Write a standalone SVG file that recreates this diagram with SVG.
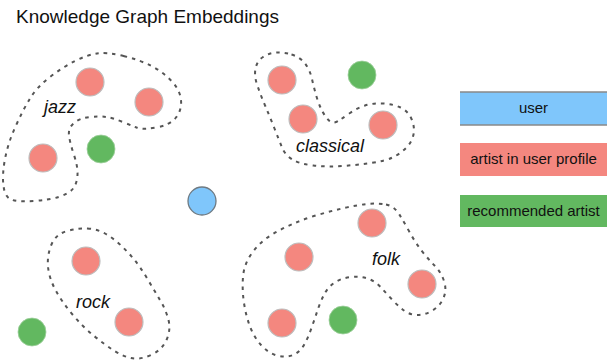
<svg xmlns="http://www.w3.org/2000/svg" width="614" height="363" viewBox="0 0 614 363">
<style>
  text { font-family: "Liberation Sans", Arial, sans-serif; fill: #111; }
  .title { font-size: 19px; }
  .lab { font-size: 18px; font-style: italic; }
  .leg { font-size: 15px; text-anchor: middle; }
  .cluster { fill: none; stroke: #555; stroke-width: 2; stroke-dasharray: 3.5 5; stroke-linecap: butt; }
  .artist { fill: #f4877f; stroke: #bdbdbd; stroke-width: 1.2; }
  .rec { fill: #62b860; stroke: #9fcf9d; stroke-width: 0.8; }
  .user { fill: #7fc6fb; stroke: #6f7a82; stroke-width: 1.3; }
</style>
<rect width="614" height="363" fill="#fff"/>
<text class="title" x="16" y="23">Knowledge Graph Embeddings</text>

<g id="clusters">
  <path id="cluster-jazz" class="cluster" d="M 123.5,56 Q 140,60 151.5,66 Q 163,72 171.5,81 Q 180,90 181,100 Q 182,110 176,117.5 Q 170,125 156.5,127.5 Q 143,130 136.5,127.5 Q 130,125 121.5,121.5 Q 113,118 106.5,117 Q 100,116 90,117 Q 80,118 74,123 Q 68,128 69,135.5 Q 70,143 74,155 Q 78,167 77.5,175 Q 77,183 73.5,188 Q 70,193 60,196.5 Q 50,200 33.5,201 Q 17,202 11,199.5 Q 5,197 3.5,186 Q 2,175 5,159 Q 8,143 15.5,126.5 Q 23,110 30,98.5 Q 37,87 50,77 Q 63,67 75,61 Q 87,55 97,53.5 Q 107,52 123.5,56 Z"/>
  <path id="cluster-classical" class="cluster" d="M 291.5,54.5 Q 300,57 305,63.5 Q 310,70 312,79 Q 314,88 316.5,96.5 Q 319,105 322.5,111.5 Q 326,118 329.5,121 Q 333,124 338,121 Q 343,118 350,113 Q 357,108 365,105.5 Q 373,103 383,103.5 Q 393,104 400.5,107.5 Q 408,111 411.5,119 Q 415,127 413.5,134.5 Q 412,142 406,148 Q 400,154 392.5,157.5 Q 385,161 371,163 Q 357,165 342,166 Q 327,167 313.5,165.5 Q 300,164 292.5,159.5 Q 285,155 282,147.5 Q 279,140 274.5,128.5 Q 270,117 265.5,106.5 Q 261,96 257.5,86 Q 254,76 255.5,68.5 Q 257,61 263,57 Q 269,53 276,52.5 Q 283,52 291.5,54.5 Z"/>
  <path id="cluster-rock" class="cluster" d="M 87.5,228.5 Q 97,229 105,233.5 Q 113,238 120.5,245 Q 128,252 134.5,260 Q 141,268 147.5,279 Q 154,290 160,300 Q 166,310 168.5,320 Q 171,330 166.5,340 Q 162,350 151,355 Q 140,360 131,358 Q 122,356 113,350 Q 104,344 93.5,335.5 Q 83,327 72.5,314.5 Q 62,302 55.5,290 Q 49,278 48,266.5 Q 47,255 51.5,244.5 Q 56,234 67,231 Q 78,228 87.5,228.5 Z"/>
  <path id="cluster-folk" class="cluster" d="M 386,204.5 Q 394,206 399,214 Q 404,222 409.5,232 Q 415,242 421.5,250.5 Q 428,259 434.5,265.5 Q 441,272 444,281 Q 447,290 443.5,298 Q 440,306 432.5,310.5 Q 425,315 417.5,315 Q 410,315 404,310.5 Q 398,306 392,299.5 Q 386,293 380.5,287 Q 375,281 367.5,278.5 Q 360,276 351,277 Q 342,278 335.5,282 Q 329,286 325,293 Q 321,300 318,309 Q 315,318 311.5,328 Q 308,338 304,345 Q 300,352 293,355 Q 286,358 277,355.5 Q 268,353 261,345 Q 254,337 250,326.5 Q 246,316 244,303 Q 242,290 243,277 Q 244,264 252,253 Q 260,242 270.5,235.5 Q 281,229 292.5,224 Q 304,219 317.5,215 Q 331,211 344,208 Q 357,205 367.5,204 Q 378,203 386,204.5 Z"/>
</g>

<g id="labels">
  <text class="lab" x="44" y="113">jazz</text>
  <text class="lab" x="296" y="152">classical</text>
  <text class="lab" x="76" y="308">rock</text>
  <text class="lab" x="372" y="265">folk</text>
</g>

<g id="jazz-1"><circle class="artist" cx="90" cy="82" r="14"/></g>
<g id="jazz-2"><circle class="artist" cx="149" cy="102" r="14"/></g>
<g id="jazz-3"><circle class="artist" cx="43" cy="158" r="14"/></g>
<g id="jazz-rec"><circle class="rec" cx="101" cy="149" r="14"/></g>

<g id="classical-1"><circle class="artist" cx="282" cy="80" r="14"/></g>
<g id="classical-2"><circle class="artist" cx="303" cy="119" r="14"/></g>
<g id="classical-3"><circle class="artist" cx="383" cy="125" r="14"/></g>
<g id="classical-rec"><circle class="rec" cx="362" cy="75" r="14"/></g>

<g id="user"><circle class="user" cx="202" cy="201" r="14"/></g>

<g id="rock-1"><circle class="artist" cx="86" cy="261" r="14"/></g>
<g id="rock-2"><circle class="artist" cx="129" cy="322" r="14"/></g>
<g id="rock-rec"><circle class="rec" cx="32" cy="332" r="14"/></g>

<g id="folk-1"><circle class="artist" cx="372" cy="223" r="14"/></g>
<g id="folk-2"><circle class="artist" cx="299" cy="257" r="14"/></g>
<g id="folk-3"><circle class="artist" cx="422" cy="284" r="14"/></g>
<g id="folk-4"><circle class="artist" cx="282" cy="323" r="14"/></g>
<g id="folk-rec"><circle class="rec" cx="343" cy="320" r="14"/></g>

<g id="legend-user">
  <rect x="460" y="92" width="147" height="33" fill="#7fc6fb"/>
  <line x1="460" y1="92" x2="607" y2="92" stroke="#888" stroke-width="1.5"/>
  <line x1="460" y1="125" x2="607" y2="125" stroke="#888" stroke-width="1.5"/>
  <text class="leg" x="533.5" y="113">user</text>
</g>
<g id="legend-artist">
  <rect x="460" y="143" width="147" height="33" fill="#f4877f"/>
  <text class="leg" x="533.5" y="164">artist in user profile</text>
</g>
<g id="legend-rec">
  <rect x="460" y="195" width="147" height="32" fill="#62b860"/>
  <text class="leg" x="533.5" y="216">recommended artist</text>
</g>
</svg>
